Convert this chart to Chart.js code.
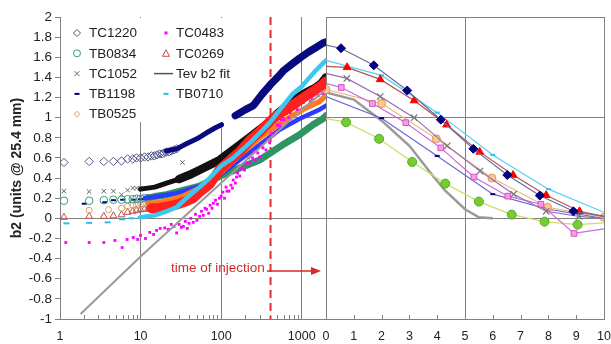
<!DOCTYPE html>
<html><head><meta charset="utf-8">
<script src="https://cdn.jsdelivr.net/npm/chart.js@4.4.1/dist/chart.umd.min.js"></script>
<style>html,body{margin:0;padding:0;background:#fff}#wrap{width:611px;height:344px;position:relative}</style>
</head><body><div id="wrap"><canvas id="c" width="611" height="344"></canvas></div>
<script>
// ================= DATA =================
const logTickValues = [1,2,3,4,5,6,7,8,9,10,20,30,40,50,60,70,80,90,100,200,300,400,500,600,700,800,900,1000,2000];
const logTickLabels = [1, 10, 100, 1000];
const logGridValues = [10, 100, 1000];
const afterTickValues = [0,1,2,3,4,5,6,7,8,9,10];
const afterGridValues = [0, 5, 10];
const yGridValues = [0, 1];
const injectionTime = 410;
const yTitle = 'b2 (units @ 25.4 mm)';
const injectionLabel = 'time of injection';

// ---- left panel: early sparse markers ----
const tc1220EarlyX = [1.12,2.3,3.5,4.6,5.8,6.9,8,8.9,10,11.2,12.4,13.6,14.8,16,17.3,18.5,19.7,21,22.5,24,26,28];
const tc1220EarlyY = [0.555,0.565,0.565,0.565,0.57,0.59,0.59,0.6,0.6,0.61,0.61,0.62,0.62,0.63,0.64,0.64,0.65,0.66,0.66,0.67,0.68,0.69];
const tb0834EarlyX = [1.12,2.3,3.5,4.6,5.8,6.9,8,8.9,10,11.2,12.4];
const tb0834EarlyY = [0.175,0.175,0.18,0.185,0.185,0.19,0.19,0.195,0.195,0.2,0.2];
const tc1052EarlyX = [1.12,2.3,3.5,4.6,5.8,6.9,8,8.9,10,33];
const tc1052EarlyY = [0.27,0.265,0.27,0.27,0.235,0.28,0.3,0.3,0.3,0.555];
const tb1198EarlyX = [2.0,3.6,4.6,6.0,8.1,10,11.5];
const tb1198EarlyY = [0.145,0.16,0.18,0.185,0.185,0.19,0.2];
const tb0525EarlyX = [2.3,4.0,5.8,6.9,8,8.9,10,11.2,12.4];
const tb0525EarlyY = [0.08,0.086,0.1,0.12,0.13,0.13,0.136,0.14,0.15];
const tc0269EarlyX = [1.12,2.3,3.5,4.6,5.8,6.9,8,8.9,10,11.2,12.4,13.6];
const tc0269EarlyY = [0.01,0.02,0.02,0.025,0.035,0.06,0.07,0.08,0.085,0.09,0.095,0.1];
const tb0710EarlyX = [1.2,2.3,3.9,5.9,7.7,10];
const tb0710EarlyY = [-0.05,-0.045,-0.04,-0.01,0.0,0.01];

// ---- left panel: dense logged records ----
const tc1220X = [21,28,37,50,66,85,101,120,150,200,250,320,410,500,600,750,940,1200,1520,1830,2000];
const tc1220Y = [0.67,0.69,0.74,0.79,0.85,0.9,0.93,null,1.02,1.08,1.12,1.23,1.33,1.4,1.47,1.53,1.59,1.65,1.7,1.74,1.75];
const tc1052X = [10,15,21,30,40,54,72,96,130,170,230,300,400,500,640,800,940,1200,1500,1750,2000];
const tc1052Y = [0.29,0.31,0.35,0.39,0.43,0.48,0.53,0.58,0.66,0.73,0.81,0.88,0.96,1.04,1.11,1.17,1.21,1.26,1.3,1.34,1.4];
const tb0710X = [10,15,21,28,37,54,72,100,141,227,330,420,480,600,780,1000,1250,1500,1830,2000];
const tb0710Y = [0.01,0.03,0.07,0.11,0.2,0.31,0.4,0.52,0.6,0.75,0.88,0.97,1.03,1.13,1.24,1.31,1.4,1.47,1.54,1.57];
const tc0269X = [13.6,15.8,21,28,37,45,54,72,97,130,170,230,300,400,530,700,860,1100,1380,1830,2000];
const tc0269Y = [0.1,0.1,0.115,0.136,0.17,0.2,0.26,0.34,0.49,0.58,0.66,0.78,0.86,0.96,1.04,1.1,1.15,1.21,1.26,1.33,1.36];
const tb0525X = [12.4,14.3,21,34,54,72,97,170,300,440,640,1030,1660,2000];
const tb0525Y = [0.15,0.15,0.17,0.22,0.3,0.35,0.45,0.63,0.8,0.895,0.98,1.08,1.16,1.22];
const tb1198X = [11.2,16.5,28,45,72,97,170,300,530,940,1660,2000];
const tb1198Y = [0.2,0.22,0.25,0.3,0.35,0.43,0.58,0.73,0.88,0.99,1.08,1.12];
const tb0834X = [12.4,15.8,21,31,54,97,170,300,410,580,940,1380,1830,2000];
const tb0834Y = [0.2,0.22,0.235,0.27,0.32,0.42,0.5,0.58,0.65,0.73,0.83,0.93,0.99,1.02];
const tc0483X = [1.18,2.3,3.5,4.8,5.9,6.8,8.1,9.2,10,11.5,13,14.5,15.8,17.5,20,22,24,26,28,30,32,34,36,38,40,42,45,48,50,54,57,60,63,66,70,73,77,80,85,90,95,100,105,110,115,118,125,132,138,141,150,155,160,170,175,180,195,200,210,220,227,245,255,265,285,300,315,330,360,380,400,420,440,480,500,530,560,600,650,690,720,760,800,880,940,1000,1050,1120,1200,1280,1350,1420,1500,1600,1700,1830,1920,2000];
const tc0483Y = [-0.24,-0.24,-0.24,-0.22,-0.29,-0.21,-0.19,-0.21,-0.17,-0.2,-0.14,-0.16,-0.12,-0.1,-0.095,-0.11,-0.06,-0.08,-0.145,-0.06,-0.09,-0.08,-0.03,-0.1,-0.05,0.0,-0.04,0.04,-0.02,0.02,0.07,0.03,0.1,0.09,0.05,0.13,0.1,0.15,0.18,0.14,0.2,0.22,0.26,0.2,0.31,0.27,0.27,0.33,0.3,0.38,0.35,0.41,0.45,0.42,0.49,0.5,0.48,0.55,0.55,0.6,0.55,0.6,0.66,0.58,0.65,0.61,0.72,0.7,0.68,0.78,0.75,0.84,0.82,0.86,0.93,0.92,0.98,0.98,1.04,1.0,1.05,1.1,1.1,1.08,1.14,1.18,1.15,1.22,1.2,1.16,1.18,1.26,1.25,1.22,1.27,1.24,1.3,1.3];
const tevFitX = [1.8,10,100,1000,2000];
const tevFitY = [-0.95,-0.38,0.35,1.08,1.28];

// ---- right panel: after injection ----
const tc1220AT = [0,0.54,1.72,2.92,4.13,5.3,6.52,7.69,8.9,10];
const tc1220AY = [1.72,1.69,1.52,1.27,0.98,0.69,0.43,0.226,0.07,0.02];
const tc0269AT = [0,0.76,1.95,3.17,4.34,5.53,6.73,7.92,9.12,10];
const tc0269AY = [1.51,1.5,1.38,1.17,0.93,0.66,0.43,0.23,0.07,0.02];
const tb0710AT = [0,2,4,6,8,10];
const tb0710AY = [1.57,1.42,1.05,0.63,0.29,0.06];
const tc1052AT = [0,0.75,1.95,3.17,4.36,5.54,6.75,7.92,9.1,10];
const tc1052AY = [1.44,1.39,1.21,1.0,0.72,0.47,0.24,0.07,0.02,0.0];
const tc0483AT = [0,0.55,1.67,2.87,4.13,5.32,6.54,7.73,8.92,10];
const tc0483AY = [1.34,1.3,1.14,0.95,0.7,0.41,0.22,0.14,-0.15,-0.105];
const tb0525AT = [0,2,3.97,5.97,7.97,10];
const tb0525AY = [1.28,1.14,0.79,0.4,0.11,0.01];
const tb1198AT = [0,2,4,6,8,10];
const tb1198AY = [1.21,0.995,0.62,0.24,0.09,0.0];
const tb0834AT = [0,0.72,1.91,3.1,4.29,5.5,6.68,7.86,9.05,10];
const tb0834AY = [0.99,0.955,0.79,0.56,0.345,0.166,0.037,-0.033,-0.063,-0.046];
const tevAT = [0,1,2,3,3.85,4.27,5,5.5,6];
const tevAY = [1.25,1.18,0.97,0.72,0.42,0.28,0.09,0.01,0.0];

// ================= BUILD =================
const FONT = 'Liberation Sans, Arial, sans-serif';
const pts = (xs, ys) => xs.map((x, i) => ({x, y: ys[i]}));
const GRID = '#808080';
const T = 'rgba(0,0,0,0)';

function band(label, xs, ys, color, width, order) {
  return {label, data: pts(xs, ys), xAxisID: 'x', showLine: true, borderColor: color, borderWidth: width,
    pointRadius: 0, pointHoverRadius: 0, borderCapStyle: 'round', borderJoinStyle: 'round', spanGaps: false, order};
}
function marks(label, xs, ys, style, radius, border, fill, bw, order) {
  return {label, data: pts(xs, ys), xAxisID: 'x', showLine: false, pointStyle: style, pointRadius: radius,
    pointBorderColor: border, pointBackgroundColor: fill, pointBorderWidth: bw, order};
}
function after(label, ts, ys, lineColor, lw, style, radius, border, fill, bw, radii, order) {
  return {label, data: pts(ts, ys), xAxisID: 'x2', showLine: true, borderColor: lineColor, borderWidth: lw,
    pointStyle: style, pointRadius: radii ? radii.map(r => r ? radius : 0) : radius, pointBorderColor: border,
    pointBackgroundColor: fill, pointBorderWidth: bw, order};
}
const noEnds = n => Array.from({length: n}, (_, i) => (i === 0 || i === n - 1) ? 0 : 1);

const tc1220Band = band('TC1220', tc1220X, tc1220Y, '#0a0a80', 7.5, 28);
tc1220Band.segment = {borderWidth: c => (c.p0.parsed.x < 90 ? 5 : 7.5)};
const tc1052Band = band('TC1052', tc1052X, tc1052Y, '#111111', 8.5, 26);
tc1052Band.segment = {borderWidth: c => (c.p0.parsed.x < 30 ? 5 : 8.5)};

const datasets = [
  band('TB0710', tb0710X, tb0710Y, '#3cc8ee', 4.5, 20),
  {label: 'Tev b2 fit', data: pts(tevFitX, tevFitY), xAxisID: 'x', showLine: true, borderColor: '#9a9a9a', borderWidth: 2, pointRadius: 0, order: 21},
  band('TC0269', tc0269X, tc0269Y, '#ff2020', 10, 22),
  {label: 'TC0483', data: pts(tc0483X, tc0483Y), xAxisID: 'x', showLine: false, pointStyle: 'rect', pointRadius: 2, pointBackgroundColor: '#ff00ff', pointBorderColor: '#ff00ff', pointBorderWidth: 0, order: 23},
  band('TB0525', tb0525X, tb0525Y, '#ff7a22', 5.5, 24),
  band('TB1198', tb1198X, tb1198Y, '#2b3cff', 4.5, 25),
  tc1052Band,
  band('TB0834', tb0834X, tb0834Y, '#2e9463', 7, 27),
  tc1220Band,
  marks('TC1220', tc1220EarlyX, tc1220EarlyY, 'rectRot', 4.2, '#54548a', T, 1, 30),
  marks('TB0834', tb0834EarlyX, tb0834EarlyY, 'circle', 3.8, '#3c9c78', T, 1, 31),
  marks('TC1052', tc1052EarlyX, tc1052EarlyY, 'crossRot', 3.2, '#666666', T, 1, 32),
  marks('TB1198', tb1198EarlyX, tb1198EarlyY, 'line', 2.5, '#000080', '#000080', 2, 33),
  marks('TB0525', tb0525EarlyX, tb0525EarlyY, 'circle', 3, '#e0a060', T, 1, 34),
  marks('TC0269', tc0269EarlyX, tc0269EarlyY, 'triangle', 4, '#c0504d', T, 1, 35),
  marks('TB0710', tb0710EarlyX, tb0710EarlyY, 'line', 3, '#22c0ee', '#22c0ee', 2, 36),
  after('TB0834', tb0834AT, tb0834AY, '#ccdd66', 1.2, 'circle', 4.5, '#55aa22', '#77cc33', 1, noEnds(tb0834AT.length), 10),
  after('Tev b2 fit', tevAT, tevAY, '#999999', 2.5, 'circle', 0, T, T, 0, null, 11),
  after('TB1198', tb1198AT, tb1198AY, '#6a6acc', 1.2, 'line', 2.5, '#000080', '#000080', 2, noEnds(tb1198AT.length), 9),
  after('TB0525', tb0525AT, tb0525AY, '#e8bb80', 1.2, 'circle', 4, '#e09a50', '#ffc890', 1, null, 8),
  after('TC0483', tc0483AT, tc0483AY, '#cc66dd', 1.2, 'rect', 4, '#cc55cc', '#ff99dd', 1, noEnds(tc0483AT.length), 7),
  after('TC1052', tc1052AT, tc1052AY, '#9070b0', 1.2, 'crossRot', 4.5, '#777777', '#777777', 1.2, noEnds(tc1052AT.length), 6),
  after('TB0710', tb0710AT, tb0710AY, '#55d0f0', 1.2, 'line', 2.5, '#33c4ee', '#33c4ee', 2, noEnds(tb0710AT.length), 5),
  after('TC0269', tc0269AT, tc0269AY, '#b05555', 1.2, 'triangle', 4.5, '#ff0000', '#ff0000', 1, noEnds(tc0269AT.length), 4),
  after('TC1220', tc1220AT, tc1220AY, '#6a6a9a', 1.2, 'rectRot', 4.5, '#000080', '#000080', 1, noEnds(tc1220AT.length), 3)
];

const legendItems = [
  {name: 'TC1220', sym: 'diamond', col: 0, row: 0},
  {name: 'TB0834', sym: 'circle', col: 0, row: 1},
  {name: 'TC1052', sym: 'cross', col: 0, row: 2},
  {name: 'TB1198', sym: 'dashNavy', col: 0, row: 3},
  {name: 'TB0525', sym: 'diamondOrange', col: 0, row: 4},
  {name: 'TC0483', sym: 'dot', col: 1, row: 0},
  {name: 'TC0269', sym: 'tri', col: 1, row: 1},
  {name: 'Tev b2 fit', sym: 'line', col: 1, row: 2},
  {name: 'TB0710', sym: 'dashCyan', col: 1, row: 3}
];

function drawSym(ctx, sym, x, y) {
  ctx.save();
  ctx.lineWidth = 1;
  ctx.beginPath();
  switch (sym) {
    case 'diamond': ctx.strokeStyle = '#54548a'; ctx.moveTo(x, y-3.5); ctx.lineTo(x+3.5, y); ctx.lineTo(x, y+3.5); ctx.lineTo(x-3.5, y); ctx.closePath(); ctx.stroke(); break;
    case 'circle': ctx.strokeStyle = '#3c9c78'; ctx.arc(x, y, 3.5, 0, Math.PI*2); ctx.stroke(); break;
    case 'cross': ctx.strokeStyle = '#666'; ctx.moveTo(x-2.5, y-2.5); ctx.lineTo(x+2.5, y+2.5); ctx.moveTo(x+2.5, y-2.5); ctx.lineTo(x-2.5, y+2.5); ctx.stroke(); break;
    case 'dashNavy': ctx.fillStyle = '#000080'; ctx.fillRect(x-2.5, y-1, 5, 2); break;
    case 'diamondOrange': ctx.strokeStyle = '#e0a060'; ctx.moveTo(x, y-3); ctx.lineTo(x+3, y); ctx.lineTo(x, y+3); ctx.lineTo(x-3, y); ctx.closePath(); ctx.stroke(); break;
    case 'dot': ctx.fillStyle = '#ff00ff'; ctx.fillRect(x-1.5, y-1.5, 3, 3); break;
    case 'tri': ctx.strokeStyle = '#c0504d'; ctx.moveTo(x, y-3.5); ctx.lineTo(x+3.5, y+3); ctx.lineTo(x-3.5, y+3); ctx.closePath(); ctx.stroke(); break;
    case 'line': ctx.strokeStyle = '#555'; ctx.lineWidth = 1.5; ctx.moveTo(x-12, y); ctx.lineTo(x+7, y); ctx.stroke(); break;
    case 'dashCyan': ctx.fillStyle = '#22c0ee'; ctx.fillRect(x-2.5, y-1, 5, 2); break;
  }
  ctx.restore();
}

const decor = {
  id: 'decor',
  beforeDatasetsDraw(chart) {
    const {ctx, chartArea: ca, scales} = chart;
    const xl = scales.x, xr = scales.x2;
    ctx.save();
    ctx.fillStyle = '#fff';
    ctx.fillRect(61, 18, 172, 104);
    ctx.strokeStyle = GRID; ctx.lineWidth = 1;
    ctx.beginPath();
    logTickValues.forEach(v => {
      if (v <= 1 || v >= 2000 || logGridValues.includes(v)) return;
      const px = Math.round(xl.getPixelForValue(v)) + 0.5;
      ctx.moveTo(px, ca.bottom); ctx.lineTo(px, ca.bottom - 4);
    });
    afterTickValues.forEach(v => {
      if (afterGridValues.includes(v)) return;
      const px = Math.round(xr.getPixelForValue(v)) + 0.5;
      ctx.moveTo(px, ca.bottom); ctx.lineTo(px, ca.bottom - 4);
    });
    ctx.moveTo(xr.left, ca.top + 0.5); ctx.lineTo(xr.right, ca.top + 0.5);
    ctx.stroke();
    const ix = xl.getPixelForValue(injectionTime);
    ctx.strokeStyle = '#dd3030'; ctx.lineWidth = 2; ctx.setLineDash([8, 5]);
    ctx.beginPath(); ctx.moveTo(ix, ca.top); ctx.lineTo(ix, ca.bottom); ctx.stroke();
    ctx.restore();
  },
  afterDraw(chart) {
    const {ctx} = chart;
    ctx.save();
    ctx.font = '13.5px ' + FONT;
    ctx.textBaseline = 'middle';
    legendItems.forEach(it => {
      const sx = it.col === 0 ? 77 : 166;
      const tx = it.col === 0 ? 89 : 176;
      const y = 33 + it.row * 20.3;
      drawSym(ctx, it.sym, sx, y);
      ctx.fillStyle = '#222';
      ctx.fillText(it.name, tx, y + 0.5);
    });
    ctx.fillStyle = '#d42a2a';
    ctx.fillText(injectionLabel, 171, 268.5);
    ctx.strokeStyle = '#d42a2a'; ctx.lineWidth = 1.5;
    ctx.beginPath(); ctx.moveTo(267, 271); ctx.lineTo(312, 271); ctx.stroke();
    ctx.beginPath(); ctx.moveTo(321, 271); ctx.lineTo(311, 267); ctx.lineTo(311, 275); ctx.closePath(); ctx.fill();
    ctx.restore();
  }
};

const fitX = s => { s.height = 25; s.paddingLeft = 0; s.paddingRight = 0; };

new Chart(document.getElementById('c'), {
  type: 'scatter',
  data: {datasets},
  options: {
    responsive: false, animation: false, devicePixelRatio: 1,
    layout: {padding: {left: 0, right: 7, top: 17, bottom: 0}},
    plugins: {legend: {display: false}, tooltip: {enabled: false}},
    scales: {
      x: {
        type: 'logarithmic', position: 'bottom', stack: 'time', stackWeight: 266,
        min: 1, max: 2000,
        afterBuildTicks: s => { s.ticks = logTickValues.map(v => ({value: v})); },
        ticks: {autoSkip: false, maxRotation: 0, minRotation: 0, padding: 10, color: '#222', font: {family: FONT, size: 12.5},
          callback: v => logTickLabels.includes(v) ? String(v) : ''},
        grid: {color: c => (c.tick && logGridValues.includes(c.tick.value)) ? GRID : T, drawTicks: false},
        border: {color: GRID},
        afterFit: fitX
      },
      x2: {
        type: 'linear', position: 'bottom', stack: 'time', stackWeight: 278,
        min: 0, max: 10,
        afterBuildTicks: s => { s.ticks = afterTickValues.map(v => ({value: v})); },
        ticks: {autoSkip: false, maxRotation: 0, minRotation: 0, padding: 10, color: '#222', font: {family: FONT, size: 12.5}},
        grid: {color: c => (c.tick && afterGridValues.includes(c.tick.value)) ? GRID : T, drawTicks: false},
        border: {color: GRID},
        afterFit: fitX
      },
      y: {
        min: -1, max: 2,
        ticks: {stepSize: 0.2, padding: 3, color: '#222', font: {family: FONT, size: 13.5},
          callback: v => String(Math.round(v * 10) / 10)},
        grid: {color: c => (c.tick && yGridValues.some(g => Math.abs(c.tick.value - g) < 1e-9)) ? GRID : T, tickColor: GRID, tickLength: 5, drawTicks: true},
        border: {color: GRID},
        title: {display: true, text: yTitle, color: '#222', font: {family: FONT, size: 14, weight: 'bold'}, padding: {top: 9, bottom: 0}},
        afterFit: s => { s.width = 60; s.paddingTop = 0; s.paddingBottom = 0; }
      }
    }
  },
  plugins: [decor]
});
</script>
</body></html>
